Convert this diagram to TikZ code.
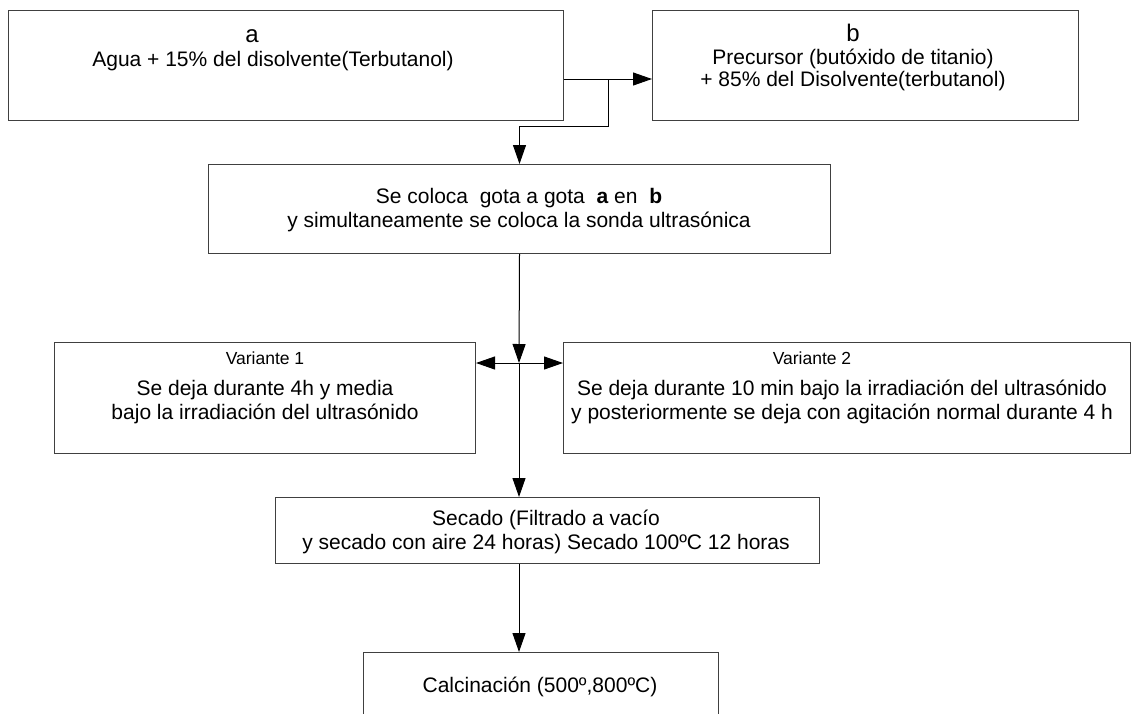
\documentclass[tikz,border=0pt]{standalone}
\usepackage{fontspec}
\setmainfont{Liberation Sans}
\usetikzlibrary{arrows.meta}
\begin{document}
\begin{tikzpicture}[x=1pt,y=-1pt,
  box/.style={draw=black!75, line width=1pt, rectangle, inner sep=0pt, anchor=north west},
  txt/.style={inner sep=0pt, align=center, font=\fontsize{21}{24}\selectfont},
  txtb/.style={inner sep=0pt, align=center, font=\fontsize{21}{22}\selectfont},
  small/.style={inner sep=0pt, font=\fontsize{17.5}{20}\selectfont},
  big/.style={inner sep=0pt, font=\fontsize{24}{27}\selectfont},
  conn/.style={draw=black, line width=1pt},
  arr/.style={conn, -{Triangle[length=19pt,width=13pt]}}]
\useasboundingbox (0,0) rectangle (1131,713);
\clip (0,0) rectangle (1131,713);
\fill[white] (0,0) rectangle (1131,713);
% boxes
\node[box, minimum width=555pt, minimum height=110pt] (a) at (8,10) {};
\node[box, minimum width=426pt, minimum height=110pt] (b) at (652,10) {};
\node[box, minimum width=622pt, minimum height=89pt] (c) at (208,164) {};
\node[box, minimum width=421pt, minimum height=111pt] (v1) at (54,342) {};
\node[box, minimum width=567pt, minimum height=111pt] (v2) at (563,342) {};
\node[box, minimum width=544pt, minimum height=66pt] (e) at (275,497) {};
\node[box, minimum width=355pt, minimum height=90pt] (f) at (363,652) {};
% texts
\node[big] (ta) at (252,36) {a};
\node[txt] (ta2) at (273,61) {Agua + 15\% del disolvente(Terbutanol)};
\node[big] (tb) at (853,33) {b};
\node[txtb] (tb2) at (853,70) {Precursor (butóxido de titanio)\\+ 85\% del Disolvente(terbutanol)};
\node[txt] (tc) at (519,210) {Se coloca\ \ gota a gota\ \ \textbf{a} en\ \ \textbf{b}\\y simultaneamente se coloca la sonda ultrasónica};
\node[small] (tv1) at (265,358) {Variante 1};
\node[txt] (tv1b) at (265,402) {Se deja durante 4h y media\\bajo la irradiación del ultrasónido};
\node[small] (tv2) at (812,358) {Variante 2};
\node[txt] (tv2b) at (842,402) {Se deja durante 10 min bajo la irradiación del ultrasónido\\y posteriormente se deja con agitación normal durante 4 h};
\node[txt] (te) at (546,532) {Secado (Filtrado a vacío\\y secado con aire 24 horas) Secado 100ºC 12 horas};
\node[txt] (tf) at (540,687) {Calcinación (500º,800ºC)};
% connectors
\coordinate (j1) at (608,79);
\coordinate (j2) at (608,126);
\coordinate (j3) at (519,363);
\draw[arr] (a.east |- j1) -- (b.west |- j1);
\draw[arr] (j1) -- (j2) -| (c.north);
\draw[arr] (c.south) -- (j3);
\draw[arr] (j3) -- (v1.east |- j3);
\draw[arr] (j3) -- (v2.west |- j3);
\draw[arr] (j3) -- (j3 |- e.north);
\draw[arr] (j3 |- e.south) -- (j3 |- f.north);
\end{tikzpicture}
\end{document}
